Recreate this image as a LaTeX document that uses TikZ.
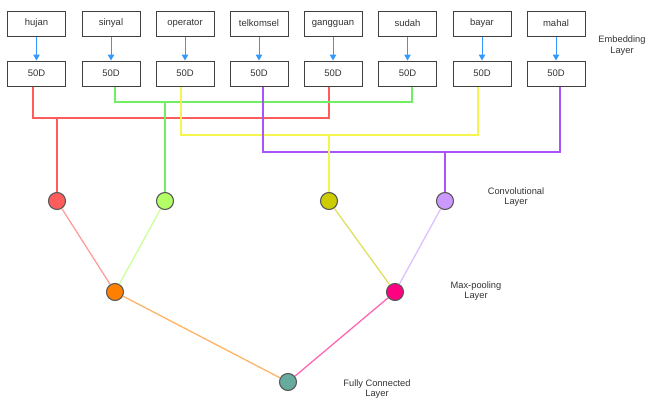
\documentclass[tikz,border=0pt]{standalone}
\usepackage{fontspec}
\setmainfont{Liberation Sans}
\usetikzlibrary{arrows.meta}
\definecolor{txt}{HTML}{333333}
\definecolor{arrblue}{HTML}{3399FF}
\definecolor{cred}{HTML}{FF5C5C}
\definecolor{cgreen}{HTML}{70F060}
\definecolor{cyellow}{HTML}{F5F550}
\definecolor{cpurple}{HTML}{A855F7}
\definecolor{fgreen}{HTML}{B3FF66}
\definecolor{fyellow}{HTML}{CCCC00}
\definecolor{fpurple}{HTML}{CC99FF}
\definecolor{forange}{HTML}{FF8000}
\definecolor{fpink}{HTML}{FF0080}
\definecolor{fteal}{HTML}{67AB9F}
\definecolor{lred}{HTML}{FF9E9E}
\definecolor{lgreen}{HTML}{CCFF99}
\definecolor{lyellow}{HTML}{E0E060}
\definecolor{lpurple}{HTML}{DDC2FF}
\definecolor{lorange}{HTML}{FFB366}
\definecolor{lpink}{HTML}{FF66B3}
\begin{document}
\begin{tikzpicture}[x=1pt,y=-1pt,
  wbox/.style={draw=black!75, line width=1pt, minimum width=58pt, minimum height=25pt, inner sep=0pt, font=\fontsize{9.5}{11}\selectfont, text=txt},
  emb/.style={-{Triangle[length=6pt,width=6.5pt]}, draw=arrblue, fill=arrblue, line width=1pt},
  conn/.style={line width=1.3pt},
  neuron/.style={circle, draw=black!65, line width=1.1pt, minimum size=17pt, inner sep=0pt},
  lbl/.style={align=center, font=\fontsize{9.3}{10.5}\selectfont, text=txt}
]
\useasboundingbox (0,0) rectangle (646,397);
% words
\foreach \n/\w/\x in {w1/hujan/36.5, w2/sinyal/111, w3/operator/185, w4/telkomsel/259, w5/gangguan/333, w6/sudah/407.5, w7/bayar/482, w8/mahal/556}{
  \node[wbox] (\n) at (\x,23.5) {\w};
}
\foreach \n/\x in {e1/36.5, e2/111, e3/185, e4/259, e5/333, e6/407.5, e7/482, e8/556}{
  \node[wbox] (\n) at (\x,73.5) {50D};
}
\foreach \i in {1,...,8}{
  \draw[emb] (w\i.south) -- (e\i.north);
}
% junction coordinates
\coordinate (jr) at (57,118);
\coordinate (jg) at (165,102);
\coordinate (jy) at (329,135);
\coordinate (jp) at (445,152);
% red
\draw[conn, draw=cred] ([xshift=-3.5pt]e1.south) |- (jr) -| ([xshift=-4pt]e5.south);
% green
\draw[conn, draw=cgreen] ([xshift=4pt]e2.south) |- (jg) -| ([xshift=4.5pt]e6.south);
% yellow
\draw[conn, draw=cyellow] ([xshift=-4pt]e3.south) |- (jy) -| ([xshift=-4pt]e7.south);
% purple
\draw[conn, draw=cpurple] ([xshift=4pt]e4.south) |- (jp) -| ([xshift=4pt]e8.south);
% neurons
\node[neuron, fill=cred] (c1) at (57,201) {};
\node[neuron, fill=fgreen] (c2) at (165,201) {};
\node[neuron, fill=fyellow] (c3) at (329,201) {};
\node[neuron, fill=fpurple] (c4) at (445,201) {};
\node[neuron, fill=forange] (m1) at (115,292) {};
\node[neuron, fill=fpink] (m2) at (395,292) {};
\node[neuron, fill=fteal] (f1) at (288,382) {};
% branches
\draw[conn, draw=cred] (jr) -- (c1);
\draw[conn, draw=cgreen] (jg) -- (c2);
\draw[conn, draw=cyellow] (jy) -- (c3);
\draw[conn, draw=cpurple] (jp) -- (c4);
% lower connections
\draw[conn, draw=lred] (c1) -- (m1);
\draw[conn, draw=lgreen] (c2) -- (m1);
\draw[conn, draw=lyellow] (c3) -- (m2);
\draw[conn, draw=lpurple] (c4) -- (m2);
\draw[conn, draw=lorange] (m1) -- (f1);
\draw[conn, draw=lpink] (m2) -- (f1);
% layer labels
\node[lbl] (le) at (622,45.5) {Embedding\\Layer};
\node[lbl] (lc) at (516,197) {Convolutional\\Layer};
\node[lbl] (lm) at (476,291) {Max-pooling\\Layer};
\node[lbl] (lf) at (377,389) {Fully Connected\\Layer};
\end{tikzpicture}
\end{document}
